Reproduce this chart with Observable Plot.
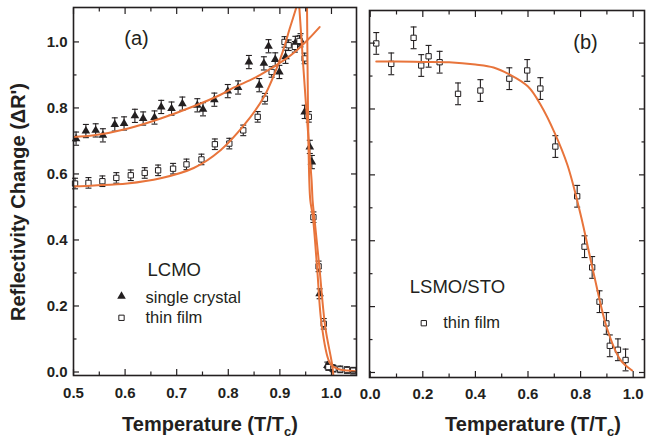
<!DOCTYPE html>
<html><head><meta charset="utf-8">
<script src="https://cdn.jsdelivr.net/npm/d3@7"></script>
<script src="https://cdn.jsdelivr.net/npm/@observablehq/plot@0.6"></script>
<style>
body{margin:0;background:#fff;}
#wrap{position:relative;width:646px;height:442px;font-family:"Liberation Sans",Arial,sans-serif;color:#231f20;}
#wrap svg{position:absolute;top:0;}
.ttl{position:absolute;font-weight:bold;font-size:20px;white-space:nowrap;line-height:22px;}
.ttl sub{font-size:13px;vertical-align:-5px;line-height:0;}
</style></head><body><div id="wrap">
<div class="ttl" style="left:210px;top:413px;transform:translateX(-50%);">Temperature (T/T<sub>c</sub>)</div>
<div class="ttl" style="left:533px;top:413px;transform:translateX(-50%);">Temperature (T/T<sub>c</sub>)</div>
<div class="ttl" style="left:18px;top:202px;transform:translate(-50%,-50%) rotate(-90deg);">Reflectivity Change (ΔR')</div>
</div>
<script>
// ---------- Panel (a): LCMO ----------
const crystalT = [0.505,0.524,0.543,0.557,0.580,0.598,0.619,0.635,0.657,0.670,0.690,0.711,0.740,0.751,0.773,0.799,0.819,0.840,0.860,0.869,0.878,0.891,0.899,0.911,0.930,0.940,0.948,0.958,0.962,0.977,0.992,1.002];
const crystalR = [0.707,0.730,0.732,0.717,0.750,0.753,0.776,0.768,0.771,0.803,0.798,0.813,0.808,0.796,0.825,0.851,0.862,0.939,0.869,0.935,0.987,0.947,0.909,0.955,0.997,1.005,0.788,0.682,0.636,0.237,0.020,0.012];
const crystalErr = [0.02,0.02,0.02,0.02,0.02,0.02,0.02,0.02,0.02,0.02,0.02,0.02,0.02,0.02,0.02,0.02,0.02,0.02,0.02,0.02,0.02,0.02,0.02,0.02,0.02,0.02,0.02,0.02,0.02,0.015,0.01,0.01];

const filmT = [0.503,0.529,0.556,0.583,0.611,0.638,0.664,0.693,0.719,0.748,0.774,0.802,0.829,0.857,0.871,0.884,0.909,0.917,0.929,0.938,0.948,0.956,0.965,0.975,0.985,0.994,1.004,1.017,1.030,1.042];
const filmR = [0.571,0.573,0.578,0.588,0.596,0.603,0.611,0.616,0.629,0.644,0.690,0.692,0.732,0.773,0.828,0.909,1.000,0.990,0.985,1.003,0.950,0.773,0.469,0.320,0.146,0.015,0.010,0.008,0.006,0.004];
const filmErr = [0.016,0.016,0.016,0.016,0.016,0.016,0.016,0.016,0.016,0.016,0.016,0.016,0.016,0.016,0.016,0.016,0.016,0.016,0.016,0.016,0.016,0.016,0.016,0.016,0.016,0.01,0.01,0.01,0.01,0.01];

const fitCrystalRiseT = [0.5,0.54,0.604,0.669,0.733,0.785,0.811,0.85,0.882,0.91,0.933,0.955,0.977];
const fitCrystalRiseR = [0.712,0.717,0.737,0.768,0.805,0.840,0.862,0.890,0.919,0.947,0.975,1.008,1.045];
const fitFilmRiseT = [0.5,0.54,0.604,0.669,0.733,0.785,0.83,0.869,0.901,0.92,0.935];
const fitFilmRiseR = [0.562,0.565,0.571,0.587,0.618,0.672,0.747,0.833,0.950,1.045,1.12];
const fitFilmFallT = [0.936,0.9377,0.950,0.9615,0.9634,0.9667,0.9764,0.988,1.001,1.004];
const fitFilmFallR = [1.15,1.104,0.823,0.580,0.520,0.469,0.320,0.136,0.025,-0.016];
const fitCrystalFallT = [0.952,0.9526,0.9545,0.9570,0.9590,0.9640,0.9720,0.9816,0.9977,1.013,1.030,1.046];
const fitCrystalFallR = [1.15,1.104,0.793,0.580,0.520,0.469,0.320,0.136,0.025,0.009,0.0045,0.0024];

const xMajorA = [0.5,0.6,0.7,0.8,0.9,1.0];
const xMinorA = [0.55,0.65,0.75,0.85,0.95];
const yMajor = [0,0.2,0.4,0.6,0.8,1.0];
const yMinor = [0.1,0.3,0.5,0.7,0.9];

// ---------- Panel (b): LSMO/STO ----------
const lsmoT = [0.023,0.080,0.165,0.194,0.222,0.264,0.334,0.419,0.529,0.597,0.647,0.704,0.787,0.815,0.844,0.872,0.898,0.911,0.942,0.971];
const lsmoR = [0.999,0.937,1.016,0.932,0.960,0.942,0.846,0.856,0.892,0.917,0.862,0.686,0.535,0.382,0.319,0.215,0.149,0.081,0.069,0.038];
const lsmoErr = [0.033,0.033,0.033,0.033,0.033,0.033,0.033,0.033,0.033,0.033,0.033,0.033,0.033,0.033,0.033,0.033,0.033,0.033,0.033,0.033];
const lsmoFitT = [0.023,0.1,0.2,0.3,0.4,0.469,0.529,0.6,0.65,0.7,0.75,0.8,0.85,0.9,0.95,0.996];
const lsmoFitR = [0.944,0.944,0.943,0.942,0.935,0.926,0.905,0.868,0.81,0.73,0.63,0.48,0.30,0.135,0.04,0.006];

const xMajorB = [0,0.2,0.4,0.6,0.8,1.0];
const xMinorB = [0.1,0.3,0.5,0.7,0.9];

// ---------- styling ----------
const ink = "#231f20", orange = "#e8743b";
const capSymbol = {draw(ctx){ ctx.moveTo(-3,0); ctx.lineTo(3,0); }};
const pts = (T,R,E) => T.map((t,i)=>({t, r:R[i], e:E ? E[i] : 0}));
const blank = () => "";
const fmt = d3.format(".1f");

function errMarks(data){
  return [
    Plot.ruleX(data,{x:"t", y1:d=>d.r-d.e, y2:d=>d.r+d.e, stroke:ink, strokeWidth:1.1}),
    Plot.dot(data,{x:"t", y:d=>d.r-d.e, symbol:capSymbol, stroke:ink, strokeWidth:1.1}),
    Plot.dot(data,{x:"t", y:d=>d.r+d.e, symbol:capSymbol, stroke:ink, strokeWidth:1.1})
  ];
}
function fitLine(T,R){
  return Plot.line(pts(T,R),{x:"t", y:"r", stroke:orange, strokeWidth:2, curve:"catmull-rom", clip:true});
}
function axes(xMajor, xMinor, showY, xPad){
  const s = {stroke:ink, strokeWidth:1.2};
  return [
    Plot.axisX({anchor:"bottom", ticks:xMajor, tickSize:-6, tickPadding:xPad, tickFormat:fmt, label:null, fontSize:15, fontWeight:"bold", ...s}),
    Plot.axisX({anchor:"bottom", ticks:xMinor, tickSize:-3.5, tickFormat:blank, label:null, ...s}),
    Plot.axisX({anchor:"top", ticks:xMajor, tickSize:-6, tickFormat:blank, label:null, ...s}),
    Plot.axisX({anchor:"top", ticks:xMinor, tickSize:-3.5, tickFormat:blank, label:null, ...s}),
    Plot.axisY({anchor:"left", ticks:yMajor, tickSize:-6, tickPadding:12, tickFormat: showY ? fmt : blank, label:null, fontSize:15, fontWeight:"bold", ...s}),
    Plot.axisY({anchor:"left", ticks:yMinor, tickSize:-3.5, tickFormat:blank, label:null, ...s}),
    Plot.axisY({anchor:"right", ticks:yMajor, tickSize:-6, tickFormat:blank, label:null, ...s}),
    Plot.axisY({anchor:"right", ticks:yMinor, tickSize:-3.5, tickFormat:blank, label:null, ...s}),
    Plot.frame({stroke:ink, strokeWidth:1.6})
  ];
}
function note(str, dx, dy, size, anchor){
  return Plot.text([str], {frameAnchor:"top-left", dx, dy, text:d=>d, textAnchor:anchor||"start", lineAnchor:"middle", fontSize:size, fontWeight:"normal", fill:ink});
}

const crystal = pts(crystalT, crystalR, crystalErr);
const film = pts(filmT, filmR, filmErr);
const lsmo = pts(lsmoT, lsmoR, lsmoErr);

const plotA = Plot.plot({
  width:362, height:442, marginLeft:73, marginRight:6, marginTop:7, marginBottom:67,
  style:{fontFamily:"Liberation Sans, Arial, sans-serif", color:ink, background:"transparent"},
  x:{domain:[0.5,1.0485]},
  y:{domain:[-0.0106,1.1043]},
  marks:[
    ...errMarks(crystal),
    ...errMarks(film),
    Plot.dot(crystal,{x:"t", y:"r", symbol:"triangle", fill:ink, r:3.2}),
    Plot.dot(film,{x:"t", y:"r", symbol:"square", fill:"white", stroke:ink, strokeWidth:1, r:3}),
    fitLine(fitCrystalRiseT, fitCrystalRiseR),
    fitLine(fitFilmRiseT, fitFilmRiseR),
    fitLine(fitFilmFallT, fitFilmFallR),
    fitLine(fitCrystalFallT, fitCrystalFallR),
    ...axes(xMajorA, xMinorA, true, 18),
    note("(a)", 63, 31, 20, "middle"),
    note("LCMO", 74, 263, 18.5),
    Plot.dot([0],{frameAnchor:"top-left", dx:48, dy:288.7, symbol:"triangle", fill:ink, r:3.2}),
    note("single crystal", 72, 290.5, 16.5),
    Plot.dot([0],{frameAnchor:"top-left", dx:48, dy:310.3, symbol:"square", fill:"white", stroke:ink, strokeWidth:1, r:3}),
    note("thin film", 72, 310, 16.5)
  ]
});

const plotB = Plot.plot({
  width:306, height:442, marginLeft:29, marginRight:2, marginTop:10, marginBottom:65,
  style:{fontFamily:"Liberation Sans, Arial, sans-serif", color:ink, background:"transparent"},
  x:{domain:[-0.0027,1.043]},
  y:{domain:[-0.0152,1.099]},
  marks:[
    ...errMarks(lsmo),
    Plot.dot(lsmo,{x:"t", y:"r", symbol:"square", fill:"white", stroke:ink, strokeWidth:1, r:3}),
    fitLine(lsmoFitT, lsmoFitR),
    ...axes(xMajorB, xMinorB, false, 16.5),
    note("(b)", 216, 32, 20, "middle"),
    note("LSMO/STO", 40.3, 276.7, 18.5),
    Plot.dot([0],{frameAnchor:"top-left", dx:54.3, dy:312.7, symbol:"square", fill:"white", stroke:ink, strokeWidth:1, r:3}),
    note("thin film", 73.7, 312, 16.5)
  ]
});

const wrap = document.getElementById("wrap");
plotA.style.left = "0px";
plotB.style.left = "340px";
wrap.appendChild(plotA);
wrap.appendChild(plotB);
</script>
</body></html>
